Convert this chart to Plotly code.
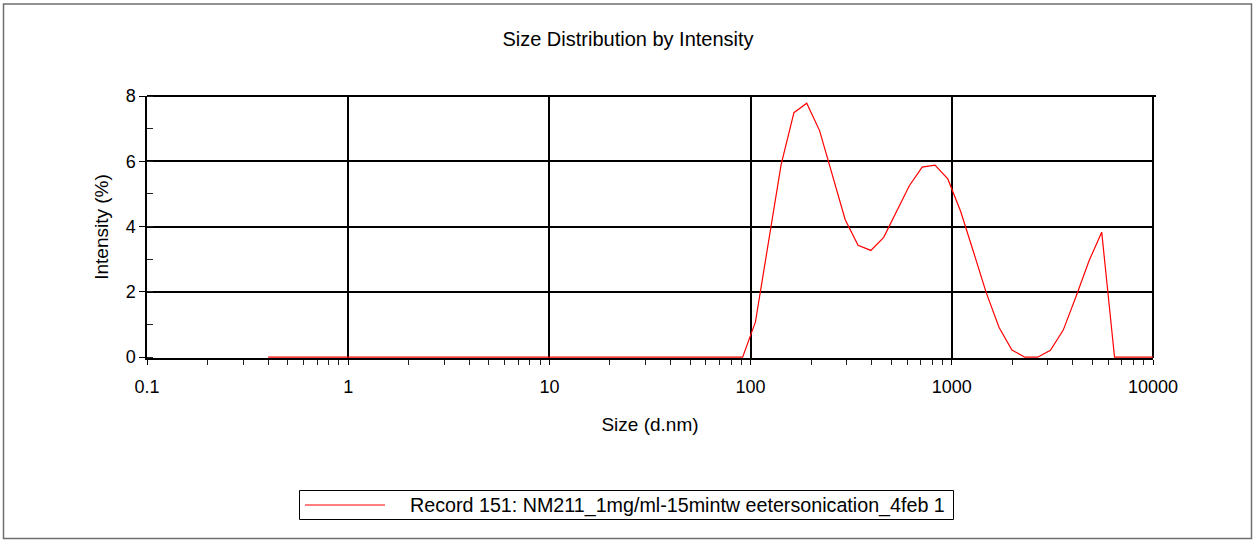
import plotly.graph_objects as go

# Size bins (d.nm)
sizes = [0.4, 0.4632, 0.5365, 0.6213, 0.7195, 0.8332, 0.9649, 1.117, 1.294, 1.499,
         1.736, 2.010, 2.328, 2.696, 3.122, 3.615, 4.187, 4.849, 5.615, 6.503,
         7.531, 8.721, 10.10, 11.70, 13.54, 15.69, 18.17, 21.04, 24.36, 28.21,
         32.67, 37.84, 43.82, 50.75, 58.77, 68.06, 78.82, 91.28, 105.7, 122.4,
         141.8, 164.2, 190.1, 220.2, 255.0, 295.3, 342.0, 396.1, 458.7, 531.2,
         615.1, 712.4, 825.0, 955.4, 1106, 1281, 1484, 1718, 1990, 2305,
         2669, 3091, 3580, 4145, 4801, 5560, 6439, 7456, 8635, 10000]

# Intensity (%)
intensity = [0, 0, 0, 0, 0, 0, 0, 0, 0, 0,
             0, 0, 0, 0, 0, 0, 0, 0, 0, 0,
             0, 0, 0, 0, 0, 0, 0, 0, 0, 0,
             0, 0, 0, 0, 0, 0, 0, 0, 1.08, 3.5,
             5.9, 7.49, 7.78, 6.94, 5.56, 4.21, 3.43, 3.27, 3.67, 4.44,
             5.25, 5.82, 5.88, 5.46, 4.47, 3.23, 1.97, 0.91, 0.22, 0,
             0, 0.21, 0.83, 1.86, 2.94, 3.83, 0, 0, 0, 0]

# Axis tick labels
x_tickvals = [0.1, 1, 10, 100, 1000, 10000]
x_ticktext = ["0.1", "1", "10", "100", "1000", "10000"]
y_tickvals = [0, 2, 4, 6, 8]
y_ticktext = ["0", "2", "4", "6", "8"]

series_name = "Record 151: NM211_1mg/ml-15mintw eetersonication_4feb 1"
title_text = "Size Distribution by Intensity"
x_title = "Size (d.nm)"
y_title = "Intensity (%)"

FONT = "Liberation Sans, Arial, sans-serif"
LINE_RED = "#ff0000"

fig = go.Figure()
fig.add_trace(go.Scatter(
    x=sizes, y=intensity, mode="lines", name=series_name,
    line=dict(color=LINE_RED, width=1.2), showlegend=False,
))

W, H = 1259, 540
L, R, T, B = 147, 106, 96, 182
pw, ph = W - L - R, H - T - B

def px_x(p):
    return (p - L) / pw

def px_y(p):
    return (H - B - p) / ph

shapes = [
    # outer frame
    dict(type="rect", xref="paper", yref="paper",
         x0=px_x(3.5), x1=px_x(1251.5), y0=px_y(538.5), y1=px_y(4),
         line=dict(color="#6f6f6f", width=1.5), layer="below"),
    # top and right plot borders (grid lines at range ends)
    dict(type="line", xref="paper", yref="paper", x0=0, x1=px_x(1156), y0=1, y1=1,
         line=dict(color="black", width=2), layer="below"),
    dict(type="line", xref="paper", yref="paper", x0=1, x1=1, y0=0, y1=1,
         line=dict(color="black", width=2), layer="below"),
    # legend box
    dict(type="rect", xref="paper", yref="paper",
         x0=px_x(299.5), x1=px_x(953.5), y0=px_y(519.5), y1=px_y(490.5),
         line=dict(color="black", width=1), fillcolor="white", layer="below"),
    # legend sample line
    dict(type="line", xref="paper", yref="paper",
         x0=px_x(305), x1=px_x(385), y0=px_y(505), y1=px_y(505),
         line=dict(color=LINE_RED, width=1.2)),
]

annotations = [
    dict(text=series_name, xref="paper", yref="paper",
         x=px_x(408), y=px_y(505.5), xanchor="left", yanchor="middle",
         showarrow=False, font=dict(size=19.7, family=FONT, color="black")),
]

fig.update_layout(
    width=W, height=H,
    margin=dict(l=L, r=R, t=T, b=B),
    paper_bgcolor="white", plot_bgcolor="white",
    font=dict(family=FONT, color="black", size=17),
    title=dict(text=title_text, x=628 / W, xanchor="center",
               y=1 - 39 / H, yanchor="middle", yref="container",
               font=dict(size=20, family=FONT, color="black")),
    showlegend=False,
    xaxis=dict(
        type="log", range=[-1, 4],
        tickmode="array", tickvals=x_tickvals, ticktext=x_ticktext,
        showgrid=True, gridcolor="black", gridwidth=2,
        showline=True, linecolor="black", linewidth=1.5,
        zeroline=False, layer="below traces",
        ticks="outside", ticklen=5, tickwidth=1, tickcolor="black",
        ticklabelstandoff=7,
        tickfont=dict(size=18, family=FONT, color="black"),
        minor=dict(dtick="D1", ticks="outside", ticklen=5, tickwidth=1,
                   tickcolor="#222222", showgrid=False),
        title=dict(text=x_title, standoff=21,
                   font=dict(size=19, family=FONT, color="black")),
        automargin=False,
    ),
    yaxis=dict(
        range=[-0.025, 8],
        tickmode="array", tickvals=y_tickvals, ticktext=y_ticktext,
        showgrid=True, gridcolor="black", gridwidth=2,
        showline=True, linecolor="black", linewidth=1.5,
        zeroline=False, layer="below traces",
        ticks="outside", ticklen=6, tickwidth=1, tickcolor="black",
        tickfont=dict(size=18, family=FONT, color="black"),
        minor=dict(dtick=1, tick0=0, ticks="inside", ticklen=6, tickwidth=1,
                   tickcolor="#222222", showgrid=False),
        title=dict(text=y_title, standoff=12,
                   font=dict(size=19, family=FONT, color="black")),
        automargin=False,
    ),
    shapes=shapes,
    annotations=annotations,
)

fig.write_html("out.html")
